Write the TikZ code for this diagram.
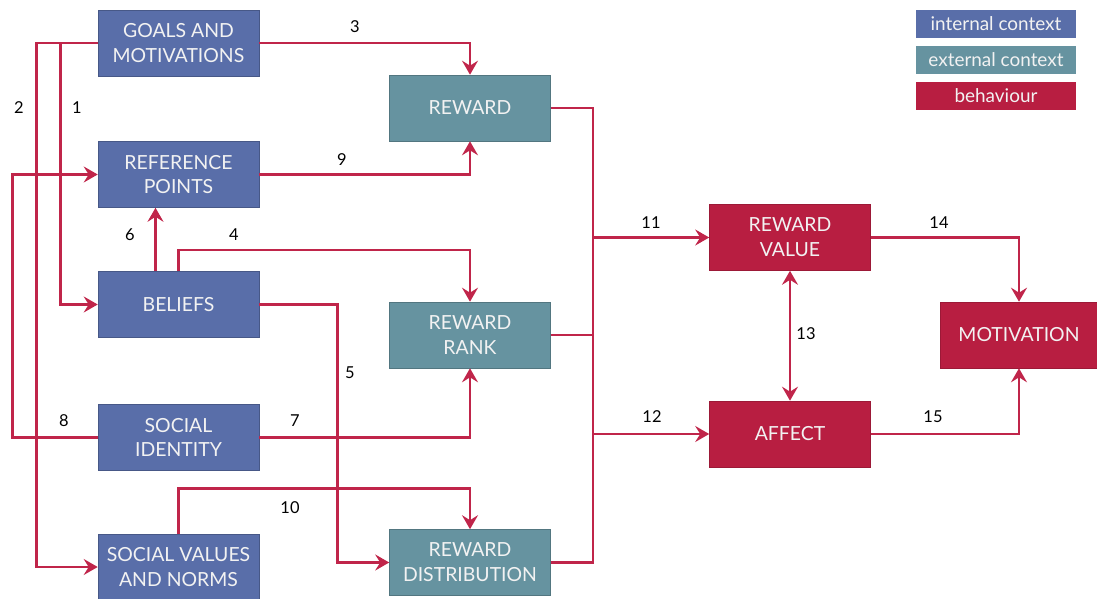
\documentclass[tikz,border=0pt]{standalone}
\usepackage{fontspec}
\setmainfont{Lato}
\usepackage{xcolor}
\definecolor{inblue}{HTML}{596EA9}
\definecolor{exteal}{HTML}{6693A0}
\definecolor{bhred}{HTML}{B81E41}
\definecolor{linkred}{HTML}{C0254A}
\definecolor{boxtext}{HTML}{F2F2F2}
\usepackage{tikz}
\usetikzlibrary{arrows.meta}

\begin{document}
\begin{tikzpicture}[x=1bp,y=-1bp,>={Stealth[length=14bp,width=16bp,inset=5bp]},
  every node/.style={font=\fontsize{19.5}{25}\selectfont},
  box/.style={rectangle,inner sep=0pt,minimum width=161bp,minimum height=66bp,align=center,text=boxtext,line width=0.6bp},
  inbox/.style={box,draw=inblue!80!black,fill=inblue},
  exbox/.style={box,draw=exteal!80!black,fill=exteal},
  bhbox/.style={box,draw=bhred!85!black,fill=bhred},
  keybox/.style={rectangle,inner sep=0pt,minimum width=160bp,minimum height=28bp,text=boxtext,font=\fontsize{19}{20}\selectfont},
  link/.style={draw=linkred,line width=2.6bp},
  num/.style={font=\fontsize{16.5}{18}\selectfont,text=black}]
\useasboundingbox (0,0) rectangle (1097,599);
% internal context
\node[inbox] (goals) at (178.5,43) {GOALS AND\\MOTIVATIONS};
\node[inbox] (refpts) at (178.5,174.5) {REFERENCE\\POINTS};
\node[inbox] (beliefs) at (178.5,304.5) {BELIEFS};
\node[inbox] (socid) at (178.5,437.5) {SOCIAL\\IDENTITY};
\node[inbox] (socval) at (178.5,567) {SOCIAL VALUES\\AND NORMS};
% external context
\node[exbox] (reward) at (470,108) {REWARD};
\node[exbox] (rank) at (470,335) {REWARD\\RANK};
\node[exbox] (distr) at (470,562.5) {REWARD\\DISTRIBUTION};
% behaviour
\node[bhbox] (value) at (790,237.5) {REWARD\\VALUE};
\node[bhbox] (affect) at (790,434) {AFFECT};
\node[bhbox,minimum width=158bp] (motiv) at (1019,335) {MOTIVATION};
% key
\node[keybox,fill=inblue] (keyin) at (996,24) {internal context};
\node[keybox,fill=exteal] (keyex) at (996,60) {external context};
\node[keybox,fill=bhred] (keybh) at (996,96) {behaviour};

% links
\draw[link,->] (goals.west) -- ++(-37,0) |- (beliefs.west);
\draw[link,->] (goals.west) -- ++(-61,0) |- (socval.west);
\draw[link,->] (goals.east) -| (reward.north);
\draw[link,->] (beliefs.north) -- ++(0,-21) -| (rank.north);
\draw[link,->] (beliefs.east) -- ++(78,0) |- (distr.west);
\draw[link,->] ([xshift=-23bp]beliefs.north) -- ([xshift=-23bp]refpts.south);
\draw[link,->] (socid.east) -| (rank.south);
\draw[link,->] (socid.west) -- ++(-85,0) |- (refpts.west);
\draw[link,->] (refpts.east) -| (reward.south);
\draw[link,->] (socval.north) -- ++(0,-45) -| (distr.north);
\coordinate (bus) at (593,335);
\draw[link] (reward.east) -| (bus);
\draw[link] (distr.east) -| (bus);
\draw[link] (rank.east) -- (bus);
\draw[link,->] (bus |- value.west) -- (value.west);
\draw[link,->] (bus |- affect.west) -- (affect.west);
\draw[link,<->] (value.south) -- (affect.north);
\draw[link,->] (value.east) -| (motiv.north);
\draw[link,->] (affect.east) -| (motiv.south);

% numbers
\node[num] (n1) at (77,108) {1};
\node[num] (n2) at (19,108) {2};
\node[num] (n3) at (355,27) {3};
\node[num] (n4) at (234,235) {4};
\node[num] (n5) at (350,373) {5};
\node[num] (n6) at (130,235) {6};
\node[num] (n7) at (295,421) {7};
\node[num] (n8) at (64,421) {8};
\node[num] (n9) at (342,160) {9};
\node[num] (n10) at (290,508) {10};
\node[num] (n11) at (651,223) {11};
\node[num] (n12) at (652,417) {12};
\node[num] (n13) at (806,334) {13};
\node[num] (n14) at (939,223) {14};
\node[num] (n15) at (933,417) {15};
\end{tikzpicture}
\end{document}
